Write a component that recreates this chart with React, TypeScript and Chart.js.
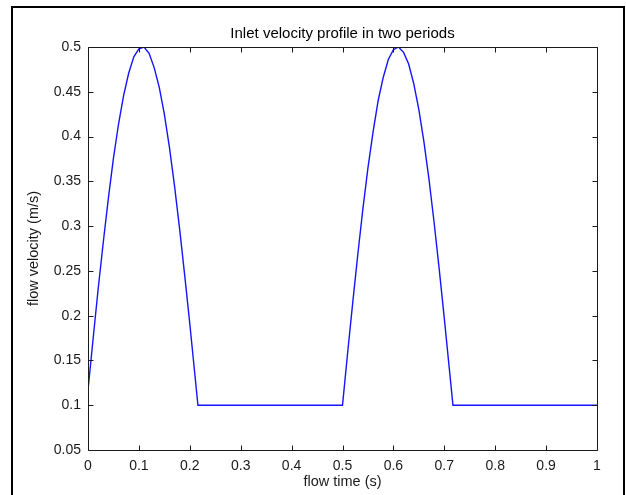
import React, { useEffect, useRef } from "react";
import { Chart, registerables } from "chart.js";

Chart.register(...registerables);

const chartTitle = "Inlet velocity profile in two periods";
const xAxisLabel = "flow time (s)";
const yAxisLabel = "flow velocity (m/s)";

const flowTime = [
  0, 0.01, 0.02, 0.03, 0.04, 0.05, 0.06, 0.07, 0.08, 0.09, 0.1, 0.11, 0.12, 0.13,
  0.14, 0.15, 0.16, 0.17, 0.18, 0.19, 0.2, 0.21, 0.216,
  0.5, 0.51, 0.52, 0.53, 0.54, 0.55, 0.56, 0.57, 0.58, 0.59, 0.6, 0.61, 0.62, 0.63,
  0.64, 0.65, 0.66, 0.67, 0.68, 0.69, 0.7, 0.71, 0.717, 1.0,
];
const flowVelocity = [
  0.117, 0.174, 0.23, 0.282, 0.331, 0.376, 0.414, 0.446, 0.471, 0.489, 0.498, 0.5, 0.493, 0.477,
  0.455, 0.425, 0.388, 0.345, 0.297, 0.245, 0.191, 0.134, 0.1,
  0.1, 0.158, 0.214, 0.268, 0.319, 0.365, 0.405, 0.44, 0.466, 0.486, 0.497, 0.5, 0.494, 0.481,
  0.459, 0.43, 0.394, 0.352, 0.304, 0.252, 0.197, 0.14, 0.1, 0.1,
];

const xTickValues = [0, 0.1, 0.2, 0.3, 0.4, 0.5, 0.6, 0.7, 0.8, 0.9, 1];
const xTickLabels = ["0", "0.1", "0.2", "0.3", "0.4", "0.5", "0.6", "0.7", "0.8", "0.9", "1"];
const yTickValues = [0.05, 0.1, 0.15, 0.2, 0.25, 0.3, 0.35, 0.4, 0.45, 0.5];
const yTickLabels = ["0.05", "0.1", "0.15", "0.2", "0.25", "0.3", "0.35", "0.4", "0.45", "0.5"];

const FONT = "Arial, 'Liberation Sans', Helvetica, sans-serif";
const AXIS_COLOR = "#1a1a1a";

const boxTicksPlugin = {
  id: "boxTicks",
  afterDraw(chart: any) {
    const { ctx, chartArea } = chart;
    const { left, right, top, bottom } = chartArea;
    const xs = chart.scales.x;
    const ys = chart.scales.y;
    const len = 5;
    ctx.save();
    ctx.strokeStyle = AXIS_COLOR;
    ctx.lineWidth = 1;
    ctx.beginPath();
    const L = Math.round(left) + 0.5;
    const R = Math.round(right) + 0.5;
    const T = Math.round(top) + 0.5;
    const B = Math.round(bottom) + 0.5;
    ctx.rect(L, T, R - L, B - T);
    xTickValues.forEach((v) => {
      const px = Math.round(xs.getPixelForValue(v)) + 0.5;
      ctx.moveTo(px, B);
      ctx.lineTo(px, B - len);
      ctx.moveTo(px, T);
      ctx.lineTo(px, T + len);
    });
    yTickValues.forEach((v) => {
      const py = Math.round(ys.getPixelForValue(v)) + 0.5;
      ctx.moveTo(L, py);
      ctx.lineTo(L + len, py);
      ctx.moveTo(R, py);
      ctx.lineTo(R - len, py);
    });
    ctx.stroke();
    ctx.restore();
  },
};

export default function App() {
  const canvasRef = useRef<HTMLCanvasElement | null>(null);

  useEffect(() => {
    if (!canvasRef.current) return;
    const points = flowTime.map((t, i) => ({ x: t, y: flowVelocity[i] }));
    const chart = new Chart(canvasRef.current, {
      type: "line",
      data: {
        datasets: [
          {
            data: points,
            borderColor: "rgb(20,20,255)",
            borderWidth: 1.4,
            pointRadius: 0,
            fill: false,
            tension: 0,
          },
        ],
      },
      options: {
        animation: false,
        responsive: false,
        devicePixelRatio: 1,
        layout: { padding: { left: 0, right: 29, top: 0, bottom: 0 } },
        plugins: {
          legend: { display: false },
          tooltip: { enabled: false },
          title: {
            display: true,
            text: chartTitle,
            fullSize: false,
            color: "#000",
            font: { family: FONT, size: 15, weight: "normal" },
            padding: { top: 25, bottom: 4 },
          },
        },
        scales: {
          x: {
            type: "linear",
            min: 0,
            max: 1,
            afterBuildTicks: (scale: any) => {
              scale.ticks = xTickValues.map((v) => ({ value: v }));
            },
            afterFit: (scale: any) => {
              scale.height = 45;
            },
            grid: { display: false, drawTicks: false },
            border: { display: false },
            ticks: {
              autoSkip: false,
              maxRotation: 0,
              padding: 8,
              color: AXIS_COLOR,
              font: { family: FONT, size: 14 },
              callback: (value: any) => {
                const i = xTickValues.findIndex((v) => Math.abs(v - Number(value)) < 1e-9);
                return i >= 0 ? xTickLabels[i] : "";
              },
            },
            title: {
              display: true,
              text: xAxisLabel,
              color: AXIS_COLOR,
              font: { family: FONT, size: 14.5 },
              padding: { top: 0, bottom: 4 },
            },
          },
          y: {
            type: "linear",
            min: 0.05,
            max: 0.5,
            afterBuildTicks: (scale: any) => {
              scale.ticks = yTickValues.map((v) => ({ value: v }));
            },
            afterFit: (scale: any) => {
              scale.width = 88;
            },
            grid: { display: false, drawTicks: false },
            border: { display: false },
            ticks: {
              autoSkip: false,
              padding: 7,
              color: AXIS_COLOR,
              font: { family: FONT, size: 14 },
              callback: (value: any) => {
                const i = yTickValues.findIndex((v) => Math.abs(v - Number(value)) < 1e-9);
                return i >= 0 ? yTickLabels[i] : "";
              },
            },
            title: {
              display: true,
              text: yAxisLabel,
              color: AXIS_COLOR,
              font: { family: FONT, size: 14.5 },
              padding: { top: 25, bottom: 0 },
            },
          },
        },
      },
      plugins: [boxTicksPlugin],
    });
    return () => chart.destroy();
  }, []);

  return (
    <div
      style={{
        position: "fixed",
        left: 0,
        top: 0,
        width: 626,
        height: 495,
        background: "#fff",
        overflow: "hidden",
      }}
    >
      <canvas ref={canvasRef} width={626} height={495} style={{ display: "block" }} />
      <div
        style={{
          position: "absolute",
          left: 11,
          top: 6,
          width: 614,
          height: 520,
          boxSizing: "border-box",
          borderTop: "2px solid #000",
          borderLeft: "2px solid #000",
          borderRight: "2px solid #000",
          pointerEvents: "none",
        }}
      />
    </div>
  );
}
